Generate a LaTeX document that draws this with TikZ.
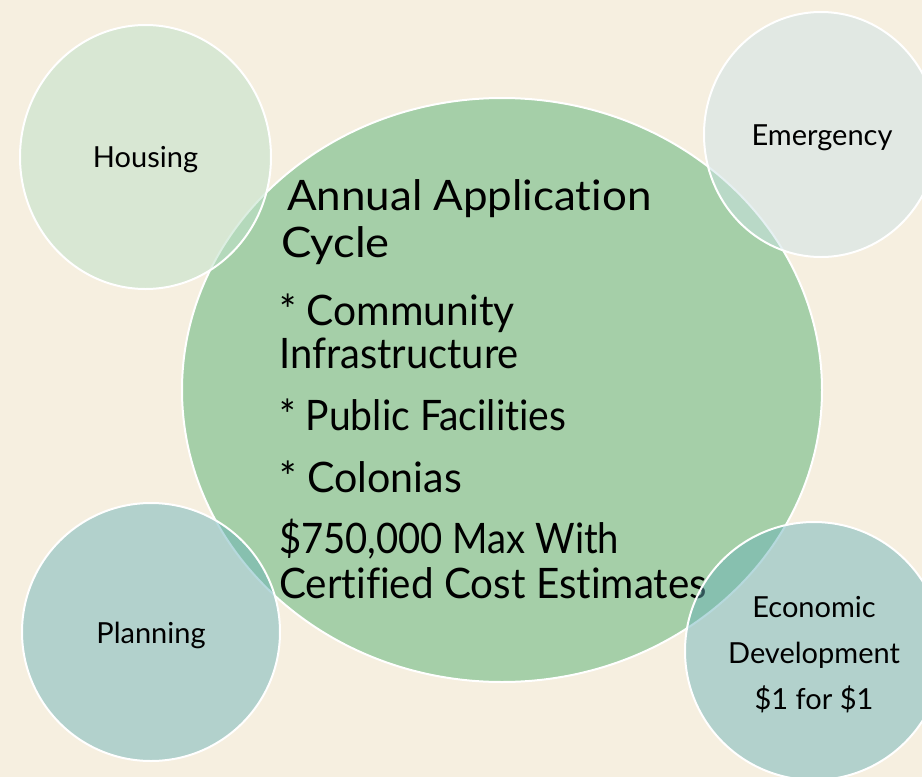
\documentclass[tikz,border=0pt]{standalone}
\usepackage{fontspec}
\setmainfont{Lato}[Ligatures=NoCommon]
\definecolor{bgc}{RGB}{246,239,224}
\definecolor{bigc}{RGB}{165,207,168}
\definecolor{housec}{RGB}{193,225,202}
\definecolor{emerc}{RGB}{206,227,230}
\definecolor{tealc}{RGB}{104,177,184}
\newcommand\sqz[2]{\scalebox{#1}[1]{#2}}
\tikzset{
  ring/.style={draw=white, line width=2pt},
  bigtxt/.style={anchor=base west, inner sep=0pt, font=\fontsize{42}{50}\selectfont},
  smalltxt/.style={anchor=base, inner sep=0pt, font=\fontsize{29}{34}\selectfont},
}
\begin{document}
\begin{tikzpicture}[x=1pt,y=-1pt]
\useasboundingbox (0,0) rectangle (922,777);
\fill[bgc] (0,0) rectangle (922,777);
\begin{scope}
\clip (0,0) rectangle (922,777);
% big ellipse
\fill[bigc] (502,390) ellipse [x radius=320, y radius=292];
\draw[ring] (502,390) ellipse [x radius=320, y radius=292];
\node[bigtxt] (t1) at (287,210) {\sqz{1.045}{Annual Application}};
\node[bigtxt] (t2) at (281,257) {\sqz{1.08}{Cycle}};
\node[bigtxt] (t3) at (279,325) {\sqz{0.97}{* Community}};
\node[bigtxt] (t4) at (279,368) {\sqz{0.95}{Infrastructure}};
\node[bigtxt] (t5) at (279,430) {\sqz{0.93}{* Public Facilities}};
\node[bigtxt] (t6) at (279,492) {\sqz{0.98}{* Colonias}};
\node[bigtxt] (t7) at (279,553) {\sqz{0.91}{\$750,000 Max With}};
\node[bigtxt] (t8) at (279,598) {\sqz{0.962}{Certified Cost Estimates}};
% housing
\fill[housec, fill opacity=0.56] (145.5,157) ellipse [x radius=125.5, y radius=132];
\draw[ring] (145.5,157) ellipse [x radius=125.5, y radius=132];
\node[smalltxt] (housing) at (145.5,167) {Housing};
% emergency
\fill[emerc, fill opacity=0.5] (821,134.5) ellipse [x radius=117, y radius=122.5];
\draw[ring] (821,134.5) ellipse [x radius=117, y radius=122.5];
\node[smalltxt] (emergency) at (822,145) {Emergency};
% planning
\fill[tealc, fill opacity=0.48] (151,632) circle [radius=129];
\draw[ring] (151,632) circle [radius=129];
\node[smalltxt] (planning) at (151,643) {Planning};
% economic
\fill[tealc, fill opacity=0.48] (814,651) circle [radius=129];
\draw[ring] (814,651) circle [radius=129];
\node[smalltxt] (econ1) at (814,617) {Economic};
\node[smalltxt] (econ2) at (814,663) {Development};
\node[smalltxt] (econ3) at (814,709) {\$1 for \$1};
\end{scope}
\end{tikzpicture}
\end{document}
